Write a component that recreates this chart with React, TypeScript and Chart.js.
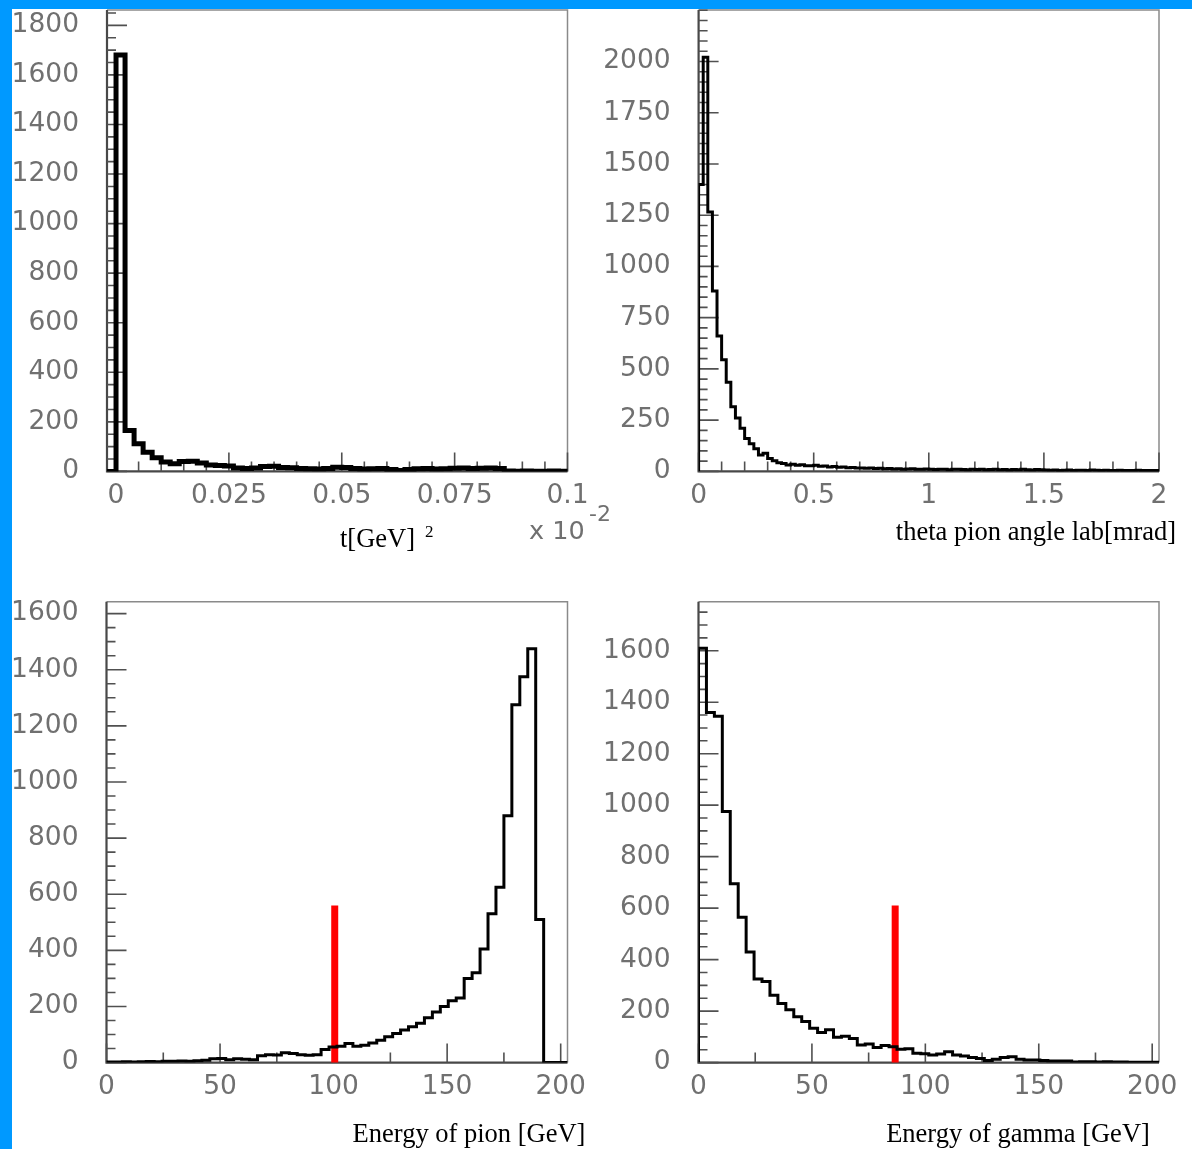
import React, { useEffect, useRef } from 'react';
import { Chart, registerables } from 'chart.js';

Chart.register(...registerables);

const W = 1192;
const H = 1149;

// ---------- Panel 1: t [GeV]^2  (x 10^-2) ----------
const tBinStart = -0.002;
const tBinWidth = 0.002;
const tCounts = [
  0, 1680, 165, 112, 77, 55, 38, 31, 40, 41,
  34, 26, 24, 22, 14, 12, 14, 20, 21, 16,
  15, 12, 11, 10, 12, 17, 16, 12, 10, 11,
  12, 8, 4, 8, 11, 12, 10, 11, 13, 14,
  12, 13, 14, 12, 2, 1, 2, 1, 1, 2,
  1,
];
const tXTicks = [0, 0.025, 0.05, 0.075, 0.1];
const tXTickLabels = ['0', '0.025', '0.05', '0.075', '0.1'];
const tYTicks = [0, 200, 400, 600, 800, 1000, 1200, 1400, 1600, 1800];
const tYTickLabels = ['0', '200', '400', '600', '800', '1000', '1200', '1400', '1600', '1800'];

// ---------- Panel 2: theta pion angle lab [mrad] ----------
const thBinStart = 0;
const thBinWidth = 0.02;
const thCounts = [
  1400, 2020, 1265, 880, 660, 545, 435, 315, 260, 210,
  160, 135, 110, 80, 88, 63, 52, 42, 39, 31,
  35, 30, 33, 28, 27, 30, 25, 26, 22, 24,
  20, 22, 18, 19, 16, 17, 15, 16, 14, 15,
  13, 14, 12, 13, 11, 12, 13, 10, 11, 12,
  10, 9, 11, 10, 8, 10, 11, 9, 8, 10,
  9, 11, 8, 9, 10, 8, 9, 7, 9, 8,
  10, 8, 7, 9, 8, 7, 6, 7, 5, 6,
  7, 5, 6, 6, 5, 7, 6, 5, 6, 4,
  5, 6, 5, 4, 5, 6, 4, 5, 4, 5,
];
const thXTicks = [0, 0.5, 1, 1.5, 2];
const thXTickLabels = ['0', '0.5', '1', '1.5', '2'];
const thYTicks = [0, 250, 500, 750, 1000, 1250, 1500, 1750, 2000];
const thYTickLabels = ['0', '250', '500', '750', '1000', '1250', '1500', '1750', '2000'];

// ---------- Panel 3: Energy of pion [GeV] ----------
const piBinStart = 0;
const piBinWidth = 3.5;
const piCounts = [
  2, 2, 3, 2, 3, 4, 3, 5, 5, 6,
  5, 7, 8, 14, 15, 10, 14, 12, 10, 24,
  28, 27, 35, 32, 28, 26, 28, 47, 56, 58,
  68, 58, 62, 70, 80, 92, 104, 116, 128, 140,
  160, 180, 200, 220, 230, 300, 320, 405, 530, 625,
  880, 1275, 1375, 1475, 510, 0, 0, 0,
];
const piCutX = 100.5;
const piCutTop = 560;

// ---------- Panel 4: Energy of gamma [GeV] ----------
const gaBinStart = 0;
const gaBinWidth = 3.5;
const gaCounts = [
  1610, 1360, 1345, 975, 695, 565, 430, 325, 315, 262,
  230, 205, 178, 160, 133, 117, 128, 98, 102, 94,
  68, 72, 59, 66, 62, 52, 54, 36, 34, 30,
  33, 42, 30, 26, 20, 16, 8, 13, 20, 23,
  13, 10, 10, 8, 6, 6, 6, 2, 3, 3,
  2, 3, 2, 2, 1, 1, 1, 1,
];
const gaCutX = 86.7;
const gaCutTop = 610;

const eXTicks = [0, 50, 100, 150, 200];
const eXTickLabels = ['0', '50', '100', '150', '200'];
const eYTicks = [0, 200, 400, 600, 800, 1000, 1200, 1400, 1600];
const eYTickLabels = ['0', '200', '400', '600', '800', '1000', '1200', '1400', '1600'];

// ---------- layout / style ----------
type Area = { left: number; top: number; right: number; bottom: number };
type Text = { text: string; x: number; y: number; font: string; color: string; align: CanvasTextAlign };

type PanelDef = {
  area: Area;
  xMin: number; xMax: number; yMax: number;
  binStart: number; binWidth: number; counts: number[];
  xTicks: number[]; xLabels: string[]; xMinor: number;
  yTicks: number[]; yLabels: string[]; yMinor: number;
  lineWidth: number;
  cut?: { x: number; top: number };
  texts: Text[];
};

const TICK_FONT = 'DejaVu Sans';
const TICK_SIZE = 26.5;
const TICK_COLOR = '#707070';
const SERIF = '"Liberation Serif", "DejaVu Serif", serif';

const panels: PanelDef[] = [
  {
    area: { left: 107, top: 10, right: 567.5, bottom: 471.4 },
    xMin: -0.002, xMax: 0.1, yMax: 1862,
    binStart: tBinStart, binWidth: tBinWidth, counts: tCounts,
    xTicks: tXTicks, xLabels: tXTickLabels, xMinor: 0.005,
    yTicks: tYTicks, yLabels: tYTickLabels, yMinor: 50,
    lineWidth: 5,
    texts: [
      { text: 't[GeV]', x: 340, y: 547, font: `26.5px ${SERIF}`, color: '#000', align: 'left' },
      { text: '2', x: 425, y: 537, font: `17px ${SERIF}`, color: '#000', align: 'left' },
      { text: 'x 10', x: 529, y: 539, font: `25.5px "${TICK_FONT}"`, color: TICK_COLOR, align: 'left' },
      { text: '-2', x: 589, y: 521, font: `22px "${TICK_FONT}"`, color: TICK_COLOR, align: 'left' },
    ],
  },
  {
    area: { left: 698.6, top: 10, right: 1159, bottom: 471.4 },
    xMin: 0, xMax: 2, yMax: 2251,
    binStart: thBinStart, binWidth: thBinWidth, counts: thCounts,
    xTicks: thXTicks, xLabels: thXTickLabels, xMinor: 0.1,
    yTicks: thYTicks, yLabels: thYTickLabels, yMinor: 50,
    lineWidth: 3,
    texts: [
      { text: 'theta pion angle lab[mrad]', x: 1036, y: 540, font: `26.5px ${SERIF}`, color: '#000', align: 'center' },
    ],
  },
  {
    area: { left: 106.5, top: 601.8, right: 567.5, bottom: 1062.6 },
    xMin: 0, xMax: 203, yMax: 1642,
    binStart: piBinStart, binWidth: piBinWidth, counts: piCounts,
    xTicks: eXTicks, xLabels: eXTickLabels, xMinor: 25,
    yTicks: eYTicks, yLabels: eYTickLabels, yMinor: 50,
    lineWidth: 3,
    cut: { x: piCutX, top: piCutTop },
    texts: [
      { text: 'Energy of pion [GeV]', x: 469, y: 1142, font: `26.5px ${SERIF}`, color: '#000', align: 'center' },
    ],
  },
  {
    area: { left: 698.5, top: 601.8, right: 1159, bottom: 1062.6 },
    xMin: 0, xMax: 203, yMax: 1790,
    binStart: gaBinStart, binWidth: gaBinWidth, counts: gaCounts,
    xTicks: eXTicks, xLabels: eXTickLabels, xMinor: 25,
    yTicks: eYTicks, yLabels: eYTickLabels, yMinor: 50,
    lineWidth: 3,
    cut: { x: gaCutX, top: gaCutTop },
    texts: [
      { text: 'Energy of gamma [GeV]', x: 1018, y: 1142, font: `26.5px ${SERIF}`, color: '#000', align: 'center' },
    ],
  },
];

function histPoints(start: number, width: number, counts: number[]) {
  const pts = [{ x: start, y: 0 }];
  counts.forEach((c, i) => pts.push({ x: start + i * width, y: c }));
  pts.push({ x: start + counts.length * width, y: 0 });
  return pts;
}

function decorPlugin(p: PanelDef) {
  const isMajor = (arr: number[], v: number) => arr.some((t) => Math.abs(t - v) < 1e-9);
  return {
    id: 'decor',
    beforeDatasetsDraw(chart: any) {
      const { ctx, chartArea: a } = chart;
      const xs = chart.scales.x;
      const ys = chart.scales.y;
      ctx.save();
      // frame: top & right light, left & bottom dark
      ctx.lineWidth = 1.5;
      ctx.strokeStyle = '#8a8a8a';
      ctx.beginPath();
      ctx.moveTo(a.left, a.top);
      ctx.lineTo(a.right, a.top);
      ctx.lineTo(a.right, a.bottom);
      ctx.stroke();
      ctx.lineWidth = 2.2;
      ctx.strokeStyle = '#484848';
      ctx.beginPath();
      ctx.moveTo(a.left, a.top);
      ctx.lineTo(a.left, a.bottom);
      ctx.lineTo(a.right, a.bottom);
      ctx.stroke();

      // inner ticks
      ctx.lineWidth = 1.6;
      ctx.strokeStyle = '#505050';
      ctx.beginPath();
      for (let i = 0; i * p.yMinor <= ys.max + 1e-9; i++) {
        const v = i * p.yMinor;
        const py = ys.getPixelForValue(v);
        const len = isMajor(p.yTicks, v) ? 20 : 9;
        ctx.moveTo(a.left, py);
        ctx.lineTo(a.left + len, py);
      }
      const i0 = Math.ceil(xs.min / p.xMinor - 1e-9);
      for (let i = i0; i * p.xMinor <= xs.max + 1e-9; i++) {
        const v = i * p.xMinor;
        const px = xs.getPixelForValue(v);
        const len = isMajor(p.xTicks, v) ? 19 : 10;
        ctx.moveTo(px, a.bottom);
        ctx.lineTo(px, a.bottom - len);
      }
      ctx.stroke();
      ctx.restore();
    },
    afterDraw(chart: any) {
      const { ctx } = chart;
      ctx.save();
      ctx.textBaseline = 'alphabetic';
      for (const t of p.texts) {
        ctx.font = t.font;
        ctx.fillStyle = t.color;
        ctx.textAlign = t.align;
        ctx.fillText(t.text, t.x, t.y);
      }
      ctx.restore();
    },
  };
}

function makeConfig(p: PanelDef): any {
  const datasets: any[] = [
    {
      data: histPoints(p.binStart, p.binWidth, p.counts),
      borderColor: '#000000',
      borderWidth: p.lineWidth,
      stepped: 'before',
      pointRadius: 0,
      fill: false,
      tension: 0,
      borderJoinStyle: 'miter',
      borderCapStyle: 'butt',
    },
  ];
  if (p.cut) {
    datasets.push({
      data: [
        { x: p.cut.x, y: 0 },
        { x: p.cut.x, y: p.cut.top },
      ],
      borderColor: '#ff0000',
      borderWidth: 7,
      pointRadius: 0,
      fill: false,
      borderCapStyle: 'butt',
      clip: false,
    });
  }
  const tickFont = { family: TICK_FONT, size: TICK_SIZE };
  return {
    type: 'line',
    data: { datasets },
    options: {
      responsive: false,
      animation: false,
      events: [],
      layout: { padding: { left: 0, top: p.area.top, right: W - p.area.right, bottom: 0 } },
      plugins: { legend: { display: false }, tooltip: { enabled: false }, title: { display: false } },
      scales: {
        x: {
          type: 'linear',
          min: p.xMin,
          max: p.xMax,
          grid: { display: false, drawTicks: false },
          border: { display: false },
          afterBuildTicks: (s: any) => {
            s.ticks = p.xTicks.map((v) => ({ value: v }));
          },
          afterFit: (s: any) => {
            s.height = H - p.area.bottom;
            s.paddingLeft = 0;
            s.paddingRight = 0;
          },
          ticks: {
            autoSkip: false,
            maxRotation: 0,
            minRotation: 0,
            padding: 9,
            color: TICK_COLOR,
            font: tickFont,
            callback: (_v: any, i: number) => p.xLabels[i],
          },
        },
        y: {
          type: 'linear',
          min: 0,
          max: p.yMax,
          grid: { display: false, drawTicks: false },
          border: { display: false },
          afterBuildTicks: (s: any) => {
            s.ticks = p.yTicks.map((v) => ({ value: v }));
          },
          afterFit: (s: any) => {
            s.width = p.area.left;
            s.paddingTop = 0;
            s.paddingBottom = 0;
          },
          ticks: {
            autoSkip: false,
            padding: 28,
            color: TICK_COLOR,
            font: tickFont,
            callback: (_v: any, i: number) => p.yLabels[i],
          },
        },
      },
    },
    plugins: [decorPlugin(p)],
  };
}

function Panel({ p }: { p: PanelDef }) {
  const ref = useRef<HTMLCanvasElement>(null);
  useEffect(() => {
    const chart = new Chart(ref.current as HTMLCanvasElement, makeConfig(p));
    return () => chart.destroy();
  }, [p]);
  return (
    <canvas
      ref={ref}
      width={W}
      height={H}
      style={{ position: 'absolute', left: 0, top: 0, width: W, height: H }}
    />
  );
}

export default function App() {
  return (
    <div
      style={{
        position: 'fixed',
        left: 0,
        top: 0,
        width: W,
        height: H,
        background: '#ffffff',
        overflow: 'hidden',
      }}
    >
      {panels.map((p, i) => (
        <Panel key={i} p={p} />
      ))}
      <div style={{ position: 'absolute', left: 0, top: 0, width: W, height: 9, background: '#0099ff' }} />
      <div style={{ position: 'absolute', left: 0, top: 0, width: 12, height: H, background: '#0099ff' }} />
    </div>
  );
}
